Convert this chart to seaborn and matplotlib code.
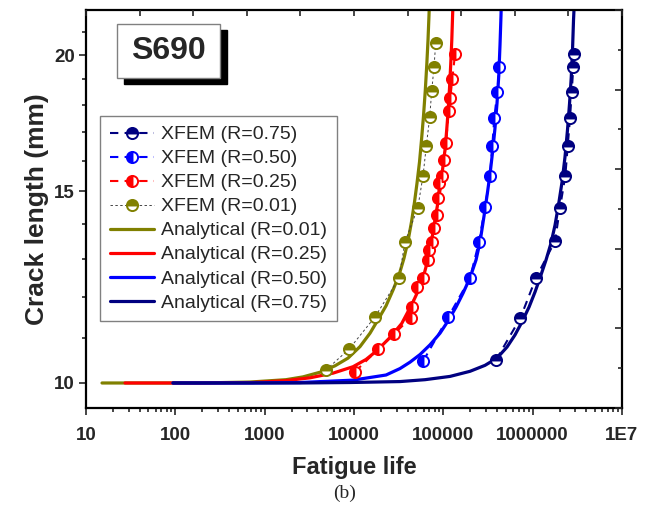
import numpy as np
import pandas as pd
import matplotlib
matplotlib.use("Agg")
import matplotlib.pyplot as plt
import seaborn as sns
from matplotlib.patches import Rectangle
from matplotlib.ticker import FixedLocator, FixedFormatter, NullFormatter

# ---------------- data ----------------
# Analytical curves: fatigue life N and crack length a (mm)
an001_N = [15.11, 188.9, 685.3, 1733, 2687, 4164, 6131, 8570, 11680, 15110,
           18570, 22820, 27330, 31910, 36290, 40240, 44040, 47580, 50750,
           54130, 56990, 59990, 62850, 65330, 67370, 69130, 69850]
an001_a = [10.0, 10.0, 10.02, 10.07, 10.13, 10.23, 10.37, 10.54, 10.80, 11.11,
           11.43, 11.77, 12.17, 12.56, 13.02, 13.50, 14.06, 14.66, 15.26,
           15.96, 16.72, 17.59, 18.58, 19.63, 20.65, 21.77, 22.33]

an025_N = [27.33, 188.9, 740.3, 1733, 3217, 5821, 9748, 13630, 18100, 25300,
           34210, 44950, 52470, 59700, 67900, 73750, 79250, 86060, 91800,
           97900, 104400, 109100, 113400, 117300, 120900, 124400, 127000, 128400]
an025_a = [10.0, 10.0, 10.01, 10.05, 10.11, 10.21, 10.35, 10.51, 10.71, 11.01,
           11.34, 11.83, 12.16, 12.51, 13.02, 13.50, 14.00, 14.57, 15.04,
           15.69, 16.37, 17.08, 17.81, 18.66, 19.59, 20.65, 21.77, 22.33]

an050_N = [94.2, 685.3, 2486, 9674, 22820, 32740, 42370, 54830, 70940, 91800,
           112800, 138700, 166100, 198900, 232200, 257400, 285400, 312400,
           337500, 359900, 378900, 399000, 417900, 431000, 442300, 445800]
an050_a = [10.0, 10.0, 10.01, 10.06, 10.17, 10.31, 10.45, 10.62, 10.84, 11.11,
           11.40, 11.74, 12.09, 12.49, 12.97, 13.47, 14.23, 14.97, 15.69,
           16.43, 17.15, 18.07, 19.18, 20.44, 21.77, 22.33]

an075_N = [94.2, 2486, 9023, 32740, 62370, 118800, 198900, 292800, 399000,
           516400, 634500, 760000, 910500, 1062000, 1209000, 1411000, 1605000,
           1779000, 1947000, 2131000, 2302000, 2455000, 2585000, 2701000,
           2793000, 2866000, 2918000]
an075_a = [10.0, 10.0, 10.01, 10.03, 10.07, 10.14, 10.25, 10.38, 10.54, 10.79,
           11.07, 11.38, 11.74, 12.12, 12.49, 12.97, 13.44, 13.96, 14.57,
           15.29, 16.13, 17.08, 18.04, 19.06, 20.22, 21.54, 22.24]

# XFEM results
xf001_N = [4860, 8790, 17200, 31900, 37200, 51700, 59300, 64500, 70400, 74100,
           78700, 82200]
xf001_a = [10.28, 10.74, 11.50, 12.48, 13.48, 14.47, 15.50, 16.51, 17.54, 18.54,
           19.52, 20.53]

xf025_N = [10250, 18700, 28100, 43100, 44200, 50700, 58800, 66900, 69200, 74100,
           79300, 84300, 86100, 90200, 97400, 101800, 107100, 114800, 119600,
           125900, 135200]
xf025_a = [10.24, 10.74, 11.09, 11.48, 11.74, 12.25, 12.49, 12.97, 13.25, 13.48,
           13.88, 14.25, 14.77, 15.26, 15.50, 16.02, 16.60, 17.77, 18.25, 19.00,
           20.05]

xf050_N = [59700, 113800, 199000, 250900, 293000, 333300, 353300, 372000, 402000,
           423600]
xf050_a = [10.48, 11.50, 12.48, 13.48, 14.50, 15.50, 16.51, 17.51, 18.51, 19.52]

xf075_N = [389000, 728000, 1090000, 1779000, 2024000, 2321000, 2468000, 2619000,
           2737000, 2851000, 2904000]
xf075_a = [10.50, 11.47, 12.49, 13.50, 14.49, 15.50, 16.51, 17.51, 18.51, 19.52,
           20.04]

x_ticks = [10, 100, 1000, 10000, 100000, 1000000, 10000000]
x_ticklabels = ["10", "100", "1000", "10000", "100000", "1000000", "1E7"]
y_ticks = [10, 15, 20]
y_ticklabels = ["10", "15", "20"]

# ---------------- style ----------------
sns.set_style("ticks")
plt.rcParams["font.family"] = ["Liberation Sans", "DejaVu Sans"]

OLIVE, RED, BLUE, NAVY = "#808000", "#FF0000", "#0000FF", "#000080"

fig = plt.figure(figsize=(6.56, 5.13), dpi=100)
ax = fig.add_axes([86 / 656, 1 - 408 / 513, 536 / 656, 398 / 513])

def frame(N, a):
    return pd.DataFrame({"N": N, "a": a})

# XFEM series (dashed with half-filled markers)
xfem = [
    ("XFEM (R=0.75)", xf075_N, xf075_a, NAVY, NAVY, "top", (0, (4, 3)), 1.5),
    ("XFEM (R=0.50)", xf050_N, xf050_a, BLUE, BLUE, "left", (0, (4, 3)), 1.5),
    ("XFEM (R=0.25)", xf025_N, xf025_a, RED, RED, "left", (0, (4, 3)), 1.5),
    ("XFEM (R=0.01)", xf001_N, xf001_a, OLIVE, "#444444", "top", (0, (2.5, 2.5)), 0.7),
]
handles = {}
for lab, N, a, c, lc, fs, ls, lw in xfem:
    sns.lineplot(data=frame(N, a), x="N", y="a", ax=ax, sort=False,
                 estimator=None, color=lc, linestyle=ls, linewidth=lw,
                 marker="o", markersize=8, fillstyle=fs,
                 markerfacecolor=c, markerfacecoloralt="white",
                 markeredgecolor=c, markeredgewidth=1.4, zorder=3)
    handles[lab] = ax.lines[-1]

analytical = [
    ("Analytical (R=0.01)", an001_N, an001_a, OLIVE),
    ("Analytical (R=0.25)", an025_N, an025_a, RED),
    ("Analytical (R=0.50)", an050_N, an050_a, BLUE),
    ("Analytical (R=0.75)", an075_N, an075_a, NAVY),
]
for lab, N, a, c in analytical:
    sns.lineplot(data=frame(N, a), x="N", y="a", ax=ax, sort=False,
                 estimator=None, color=c, linewidth=2.3, zorder=2)
    handles[lab] = ax.lines[-1]

ax.set_xscale("log")
ax.set_yscale("log")
ax.set_xlim(10, 1e7)
ax.set_ylim(9.485, 22.0)

ax.xaxis.set_major_locator(FixedLocator(x_ticks))
ax.xaxis.set_major_formatter(FixedFormatter(x_ticklabels))
ax.xaxis.set_minor_locator(FixedLocator(
    [m * 10 ** e for e in range(1, 7) for m in range(2, 10)]))
ax.xaxis.set_minor_formatter(NullFormatter())
ax.yaxis.set_major_locator(FixedLocator(y_ticks))
ax.yaxis.set_major_formatter(FixedFormatter(y_ticklabels))
ax.yaxis.set_minor_locator(FixedLocator([11, 12, 13, 14, 16, 17, 18, 19, 21]))
ax.yaxis.set_minor_formatter(NullFormatter())

ax.tick_params(which="both", direction="out", top=False, right=False,
               width=1.2, labelsize=13.5, pad=3)
ax.tick_params(axis="x", which="major", pad=9)
ax.tick_params(which="major", length=5)
ax.tick_params(which="minor", length=3)
for t in ax.get_xticklabels() + ax.get_yticklabels():
    t.set_fontweight("bold")
for s in ax.spines.values():
    s.set_linewidth(1.6)
    s.set_color("black")

ax.set_xlabel("Fatigue life", fontsize=17, fontweight="bold", labelpad=8)
ax.set_ylabel("Crack length (mm)", fontsize=19, fontweight="bold", labelpad=4)

# mirrored (linear) ticks on top and right, as in the original software
axt = ax.twiny()
axt.set_xlim(0, 1)
axt.set_xticks(np.linspace(0, 1, 11))
axt.tick_params(axis="x", direction="in", length=4, width=1.2, labeltop=False)
axr = ax.twinx()
axr.set_ylim(0, 1)
axr.set_yticks(np.linspace(0, 1, 6))
axr.set_yticks(np.linspace(0, 1, 11), minor=True)
axr.tick_params(axis="y", which="major", direction="in", length=5, width=1.2,
                labelright=False)
axr.tick_params(axis="y", which="minor", direction="in", length=3, width=1.2)
for a_ in (axt, axr):
    for s in a_.spines.values():
        s.set_visible(False)
    a_.grid(False)

# legend
order = ["XFEM (R=0.75)", "XFEM (R=0.50)", "XFEM (R=0.25)", "XFEM (R=0.01)",
         "Analytical (R=0.01)", "Analytical (R=0.25)", "Analytical (R=0.50)",
         "Analytical (R=0.75)"]
leg = ax.legend([handles[k] for k in order], order, loc="upper left",
                bbox_to_anchor=((100 - 86) / 536, (408 - 116) / 398),
                borderaxespad=0, fontsize=14, frameon=True, fancybox=False,
                edgecolor="#808080", framealpha=1, handlelength=2.3,
                handletextpad=0.33, labelspacing=0.33, borderpad=0.5,
                numpoints=1)
leg.get_frame().set_linewidth(1.0)
leg.set_zorder(10)

# S690 label box with drop shadow
bx0, bx1 = (117 - 86) / 536, (220 - 86) / 536
by0, by1 = (408 - 78) / 398, (408 - 24) / 398
dx, dy = 7 / 536, 6 / 398
ax.add_patch(Rectangle((bx0 + dx, by0 - dy), bx1 - bx0, by1 - by0,
                       transform=ax.transAxes, facecolor="black",
                       edgecolor="black", zorder=8))
ax.add_patch(Rectangle((bx0, by0), bx1 - bx0, by1 - by0,
                       transform=ax.transAxes, facecolor="white",
                       edgecolor="#808080", linewidth=1.0, zorder=9))
ax.text((bx0 + bx1) / 2, (by0 + by1) / 2, "S690", transform=ax.transAxes,
        ha="center", va="center", fontsize=23, fontweight="bold", zorder=10)

fig.text(345 / 656, 1 - 493 / 513, "(b)", ha="center", va="center",
         fontsize=14, family="Liberation Serif")

fig.savefig("out.png", dpi=100)
